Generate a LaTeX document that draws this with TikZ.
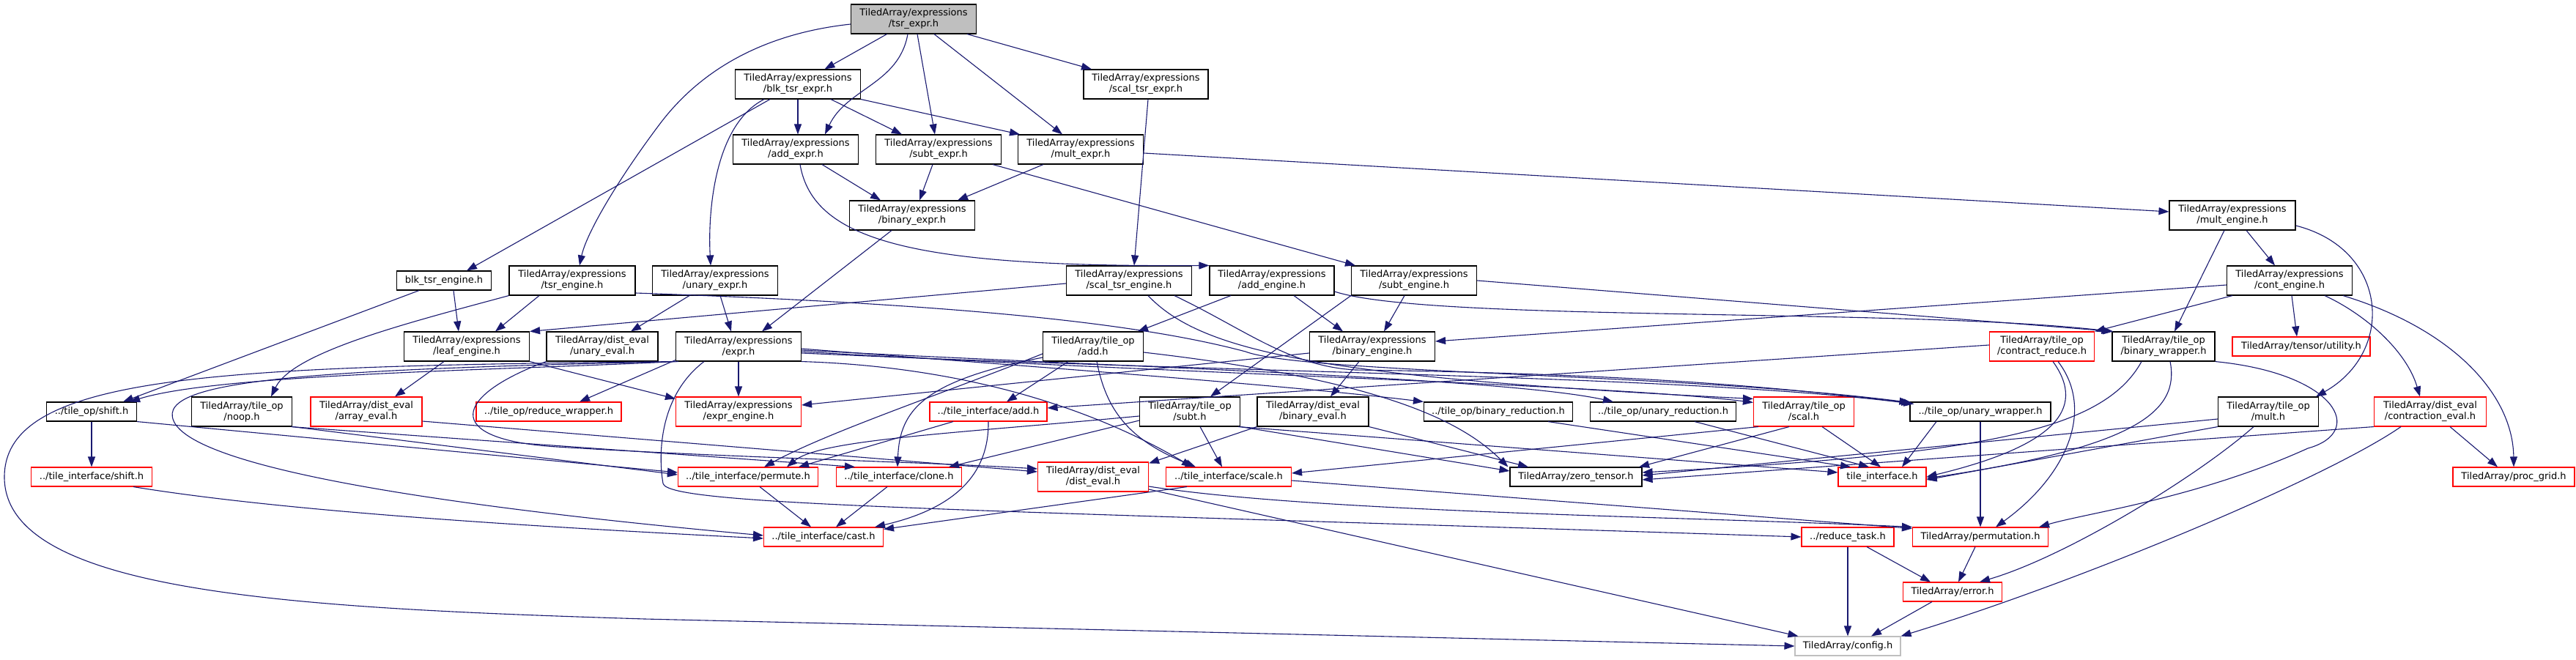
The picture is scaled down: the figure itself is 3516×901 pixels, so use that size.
\documentclass[tikz,border=0pt]{standalone}
\usepackage{fontspec}
\setmainfont{DejaVu Sans}
\usetikzlibrary{arrows.meta}
\definecolor{edgeblue}{HTML}{191970}
\definecolor{rootgray}{HTML}{BFBFBF}
\definecolor{cfggray}{HTML}{BFBFBF}
\definecolor{redline}{HTML}{FF0000}
\begin{document}
\begin{tikzpicture}[x=1pt,y=-1pt,
 nd/.style={draw=black,line width=1.1pt,fill=white,inner sep=0pt,align=center,font=\fontsize{13}{15}\selectfont},
 rd/.style={nd,draw=redline},
 two/.style={minimum height=40pt},
 one/.style={minimum height=26pt},
 e/.style={draw=edgeblue,line width=1.1pt,-{Triangle[length=14pt,width=10pt]}}]
\fill[white] (0,0) rectangle (3516,901);
\useasboundingbox (0,0) rectangle (3516,901);
% ---------------- nodes
\node[nd,two,fill=rootgray,minimum width=171pt] (tsr) at (1247,26) {TiledArray/expressions\\/tsr\_expr.h};
\node[nd,two,minimum width=171pt] (blk) at (1089,115) {TiledArray/expressions\\/blk\_tsr\_expr.h};
\node[nd,two,minimum width=170pt] (scalx) at (1564,115) {TiledArray/expressions\\/scal\_tsr\_expr.h};
\node[nd,two,minimum width=171pt] (addx) at (1086,204) {TiledArray/expressions\\/add\_expr.h};
\node[nd,two,minimum width=171pt] (subtx) at (1281,204) {TiledArray/expressions\\/subt\_expr.h};
\node[nd,two,minimum width=171pt] (multx) at (1475,204) {TiledArray/expressions\\/mult\_expr.h};
\node[nd,two,minimum width=171pt] (binx) at (1245,294) {TiledArray/expressions\\/binary\_expr.h};
\node[nd,two,minimum width=172pt] (multe) at (3047,294) {TiledArray/expressions\\/mult\_engine.h};
\node[nd,one,minimum width=129pt] (blke) at (606,383) {blk\_tsr\_engine.h};
\node[nd,two,minimum width=172pt] (tsre) at (781,383) {TiledArray/expressions\\/tsr\_engine.h};
\node[nd,two,minimum width=171pt] (unx) at (976,383) {TiledArray/expressions\\/unary\_expr.h};
\node[nd,two,minimum width=171pt] (scalte) at (1541,383) {TiledArray/expressions\\/scal\_tsr\_engine.h};
\node[nd,two,minimum width=170pt] (adde) at (1736,383) {TiledArray/expressions\\/add\_engine.h};
\node[nd,two,minimum width=171pt] (subte) at (1930,383) {TiledArray/expressions\\/subt\_engine.h};
\node[nd,two,minimum width=171pt] (conte) at (3125,383) {TiledArray/expressions\\/cont\_engine.h};
\node[nd,two,minimum width=171pt] (leafe) at (637,473) {TiledArray/expressions\\/leaf\_engine.h};
\node[nd,two,minimum width=152pt] (uneval) at (822,473) {TiledArray/dist\_eval\\/unary\_eval.h};
\node[nd,two,minimum width=171pt] (expr) at (1008,473) {TiledArray/expressions\\/expr.h};
\node[nd,two,minimum width=137pt] (addop) at (1492,473) {TiledArray/tile\_op\\/add.h};
\node[nd,two,minimum width=171pt] (bine) at (1873,473) {TiledArray/expressions\\/binary\_engine.h};
\node[rd,two,minimum width=143pt] (contr) at (2787,473) {TiledArray/tile\_op\\/contract\_reduce.h};
\node[nd,two,minimum width=140pt] (binw) at (2953,473) {TiledArray/tile\_op\\/binary\_wrapper.h};
\node[rd,one,minimum width=188pt] (util) at (3141,473) {TiledArray/tensor/utility.h};
\node[nd,one,minimum width=123pt] (shiftop) at (125,562) {../tile\_op/shift.h};
\node[nd,two,minimum width=137pt] (noop) at (330,562) {TiledArray/tile\_op\\/noop.h};
\node[rd,two,minimum width=152pt] (arreval) at (500,562) {TiledArray/dist\_eval\\/array\_eval.h};
\node[rd,one,minimum width=198pt] (redw) at (749,562) {../tile\_op/reduce\_wrapper.h};
\node[rd,two,minimum width=171pt] (expre) at (1008,562) {TiledArray/expressions\\/expr\_engine.h};
\node[rd,one,minimum width=160pt] (tiadd) at (1349,562) {../tile\_interface/add.h};
\node[nd,two,minimum width=137pt] (subtop) at (1624,562) {TiledArray/tile\_op\\/subt.h};
\node[nd,two,minimum width=152pt] (bineval) at (1792,562) {TiledArray/dist\_eval\\/binary\_eval.h};
\node[nd,one,minimum width=203pt] (binred) at (2045,562) {../tile\_op/binary\_reduction.h};
\node[nd,one,minimum width=199pt] (unred) at (2270,562) {../tile\_op/unary\_reduction.h};
\node[rd,two,minimum width=137pt] (scalop) at (2462,562) {TiledArray/tile\_op\\/scal.h};
\node[nd,one,minimum width=192pt] (unw) at (2703,562) {../tile\_op/unary\_wrapper.h};
\node[nd,two,minimum width=137pt] (multop) at (3096,562) {TiledArray/tile\_op\\/mult.h};
\node[rd,two,minimum width=153pt] (conteval) at (3317,562) {TiledArray/dist\_eval\\/contraction\_eval.h};
\node[rd,one,minimum width=165pt] (tishift) at (125,651) {../tile\_interface/shift.h};
\node[rd,one,minimum width=191pt] (permute) at (1021,651) {../tile\_interface/permute.h};
\node[rd,one,minimum width=171pt] (clone) at (1227,651) {../tile\_interface/clone.h};
\node[rd,two,minimum width=151pt] (disteval) at (1492,651) {TiledArray/dist\_eval\\/dist\_eval.h};
\node[rd,one,minimum width=171pt] (tiscale) at (1677,651) {../tile\_interface/scale.h};
\node[nd,one,minimum width=180pt] (zerot) at (2151,651) {TiledArray/zero\_tensor.h};
\node[rd,one,minimum width=120pt] (tiint) at (2569,651) {tile\_interface.h};
\node[rd,one,minimum width=166pt] (procg) at (3431,651) {TiledArray/proc\_grid.h};
\node[rd,one,minimum width=163pt] (cast) at (1124,733) {../tile\_interface/cast.h};
\node[rd,one,minimum width=126pt] (redtask) at (2522,733) {../reduce\_task.h};
\node[rd,one,minimum width=185pt] (perm) at (2703,733) {TiledArray/permutation.h};
\node[rd,one,minimum width=135pt] (err) at (2665,808) {TiledArray/error.h};
\node[nd,one,draw=cfggray,minimum width=144pt] (config) at (2522,882) {TiledArray/config.h};
% ---------------- edges
% tsr_expr
\draw[e] (tsr) -- (blk);
\draw[e] ([xshift=-8pt]tsr.south) to[out=-100,in=65] ([xshift=40pt]addx.north);
\draw[e] ([xshift=5pt]tsr.south) -- ([xshift=-5pt]subtx.north);
\draw[e] ([xshift=28pt]tsr.south) -- ([xshift=-25pt]multx.north);
\draw[e] ([xshift=73pt]tsr.south) -- ([xshift=-74pt]scalx.north);
\draw[e] ([yshift=-7pt]tsr.west) .. controls (1050,45) and (960,90) .. (900,170) .. controls (840,250) and (800,320) .. ([xshift=10pt]tsre.north);
% blk_tsr_expr
\draw[e] (blk.south) -- (blk.south |- addx.north);
\draw[e] ([xshift=45pt]blk.south) -- ([xshift=-50pt]subtx.north);
\draw[e] (blk.south east) -- ([xshift=-83pt]multx.north);
\draw[e] ([xshift=-38pt]blk.south) -- ([xshift=31pt]blke.north);
\draw[e] ([xshift=-46pt]blk.south) .. controls (975,170) and (966,290) .. ([xshift=-6pt]unx.north);
% scal_tsr_expr
\draw[e] ([xshift=3pt]scalx.south) -- ([xshift=7pt]scalte.north);
% add/subt/mult expr
\draw[e] ([xshift=36pt]addx.south) -- ([xshift=-43pt]binx.north);
\draw[e] ([xshift=6pt]addx.south) .. controls (1110,330) and (1250,365) .. (adde.north west);
\draw[e] ([xshift=-8pt]subtx.south) -- ([xshift=10pt]binx.north);
\draw[e] ([xshift=74pt]subtx.south) -- ([xshift=-80pt]subte.north);
\draw[e] ([xshift=-51pt]multx.south) -- ([xshift=62pt]binx.north);
\draw[e] ([yshift=-5pt]multx.east) -- ([yshift=5pt]multe.west);
\draw[e] ([xshift=-28pt]binx.south) -- ([xshift=32pt]expr.north);
% unary_expr
\draw[e] ([xshift=7pt]unx.south) -- ([xshift=-10pt]expr.north);
\draw[e] ([xshift=-35pt]unx.south) -- ([xshift=39pt]uneval.north);
% blk_tsr_engine, tsr_engine
\draw[e] ([xshift=13pt]blke.south) -- ([xshift=-11pt]leafe.north);
\draw[e] ([xshift=-34pt]blke.south) -- ([xshift=43pt]shiftop.north);
\draw[e] ([xshift=-45pt]tsre.south) -- ([xshift=39pt]leafe.north);
\draw[e] (tsre.south west) .. controls (560,440) and (400,480) .. ([xshift=40pt]noop.north);
\draw[e] ([yshift=-17pt]tsre.east) .. controls (1300,415) and (1550,440) .. (1700,480) .. controls (1780,510) and (2300,510) .. ([yshift=-1pt]unw.north west);
% scal_tsr_engine
\draw[e] ([yshift=-4pt]scalte.west) -- (leafe.north east);
\draw[e] ([xshift=26pt]scalte.south) .. controls (1640,480) and (1800,515) .. ([yshift=-3pt]scalop.north west);
\draw[e] ([xshift=62pt]scalte.south) .. controls (1700,450) and (1760,500) .. (1850,505) .. controls (2200,510) and (2400,525) .. ([xshift=3pt,yshift=-2pt]unw.north west);
% add_engine, subt_engine
\draw[e] ([xshift=30pt]adde.south) -- ([xshift=-40pt]bine.north);
\draw[e] ([xshift=-56pt]adde.south) -- ([xshift=61pt]addop.north);
\draw[e] ([yshift=-15pt]adde.east) .. controls (1950,440) and (2600,420) .. (binw.north west);
\draw[e] ([xshift=-13pt]subte.south) -- ([xshift=16pt]bine.north);
\draw[e] (subte.south west) -- ([xshift=28pt]subtop.north);
\draw[e] (subte.east) -- ([xshift=2pt]binw.north west);
% mult_engine, cont_engine
\draw[e] ([xshift=19pt]multe.south) -- ([xshift=-20pt]conte.north);
\draw[e] ([xshift=-11pt]multe.south) -- ([xshift=15pt]binw.north);
\draw[e] ([yshift=-14pt]multe.east) .. controls (3260,340) and (3270,480) .. ([xshift=-4pt]multop.north east);
\draw[e] ([yshift=-6pt]conte.west) -- ([yshift=7pt]bine.east);
\draw[e] ([xshift=-78pt]conte.south) -- (contr.north east);
\draw[e] ([xshift=3pt]conte.south) -- ([xshift=-6pt]util.north);
\draw[e] ([xshift=48pt]conte.south) .. controls (3230,430) and (3285,480) .. ([xshift=-14pt]conteval.north);
\draw[e] ([xshift=73pt]conte.south) .. controls (3350,450) and (3430,540) .. (procg.north);
% contraction_eval
\draw[e] ([xshift=27pt]conteval.south) -- ([xshift=-22pt]procg.north);
\draw[e] ([xshift=-40pt]conteval.south) .. controls (3180,650) and (2850,790) .. (config.north east);
\draw[e] (conteval.south west) -- ([yshift=-4pt]zerot.east);
% expr.h
\draw[e] (expr.south) -- (expre.north);
\draw[e] (expr.south west) .. controls (700,505) and (300,510) .. ([xshift=-10pt]shiftop.north east);
\draw[e] ([xshift=2pt]expr.south west) .. controls (400,505) and (200,520) .. (240,580) .. controls (290,650) and (700,700) .. ([yshift=2pt]cast.west);
\draw[e] ([yshift=2pt]expr.south west) -- ([xshift=42pt]redw.north);
\draw[e] ([xshift=4pt]expr.south west) .. controls (300,500) and (8,510) .. (6,650) .. controls (4,810) and (400,830) .. (880,845) -- (config.west);
\draw[e] ([xshift=-47pt]expr.south) .. controls (900,540) and (898,620) .. (905,660) .. controls (912,690) and (1300,695) .. (redtask.west);
\draw[e] (expr.south east) .. controls (1300,500) and (1480,550) .. ([xshift=-50pt]tiscale.north);
\draw[e] ([yshift=-3pt]expr.east) .. controls (1400,500) and (1750,525) .. (binred.north west);
\draw[e] ([yshift=-5pt]expr.east) .. controls (1500,500) and (2050,515) .. ([xshift=32pt]unred.north west);
\draw[e] ([yshift=-7pt]expr.east) .. controls (1600,510) and (2200,525) .. ([yshift=-8pt]scalop.north west);
\draw[e] ([yshift=-9pt]expr.east) .. controls (1700,510) and (2300,512) .. ([xshift=6pt,yshift=-3pt]unw.north west);
% leaf_engine, unary_eval, binary_engine
\draw[e] ([xshift=-31pt]leafe.south) -- ([xshift=39pt]arreval.north);
\draw[e] (leafe.south east) -- ([yshift=-3pt]expre.north west);
\draw[e] (uneval.south west) .. controls (620,540) and (600,600) .. (760,610) .. controls (1000,625) and (1250,630) .. ([yshift=11pt]disteval.west);
\draw[e] ([yshift=-13pt]arreval.east) -- ([yshift=7pt]disteval.west);
\draw[e] ([xshift=-18pt]bine.south) -- ([xshift=24pt]bineval.north);
\draw[e] ([yshift=-9pt]bine.west) -- ([yshift=9pt]expre.east);
% tile_op/add.h
\draw[e] ([xshift=-34pt]addop.south) -- ([xshift=25pt]tiadd.north);
\draw[e] ([yshift=-10pt]addop.west) .. controls (1280,540) and (1130,590) .. ([xshift=22pt]permute.north);
\draw[e] ([yshift=-15pt]addop.west) .. controls (1260,520) and (1228,560) .. ([xshift=-2pt]clone.north);
\draw[e] ([xshift=5pt]addop.south) .. controls (1510,560) and (1540,600) .. ([xshift=-45pt]tiscale.north);
\draw[e] ([yshift=-8pt]addop.east) .. controls (1900,520) and (2000,580) .. ([xshift=-2pt]zerot.north west);
% tile_op/subt.h
\draw[e] ([yshift=-6pt]subtop.west) .. controls (1300,592) and (1120,600) .. ([xshift=53pt]permute.north);
\draw[e] ([yshift=-12pt]subtop.west) -- ([xshift=68pt]clone.north);
\draw[e] ([xshift=14pt]subtop.south) -- ([xshift=-9pt]tiscale.north);
\draw[e] (subtop.south east) -- ([yshift=8pt]zerot.west);
\draw[e] ([xshift=-3pt]subtop.south east) -- ([yshift=6pt]tiint.west);
% binary_eval
\draw[e] (bineval.south west) -- ([yshift=-2pt]disteval.north east);
\draw[e] (bineval.south east) -- ([xshift=-65pt]zerot.north);
% reductions, scal, unary_wrapper
\draw[e] ([xshift=68pt]binred.south) -- ([xshift=-43pt]tiint.north);
\draw[e] ([xshift=43pt]unred.south) -- ([xshift=-18pt]tiint.north);
\draw[e] ([xshift=25pt]scalop.south) -- ([xshift=-2pt]tiint.north);
\draw[e] ([xshift=-20pt]scalop.south) -- ([xshift=86pt]zerot.north);
\draw[e] ([xshift=-62pt]scalop.south) -- ([yshift=5pt]tiscale.east);
\draw[e] (unw.south) -- (unw.south |- perm.north);
\draw[e] ([xshift=-60pt]unw.south) -- ([xshift=27pt]tiint.north);
% contract_reduce, binary_wrapper, mult
\draw[e] ([yshift=2pt]contr.west) -- ([yshift=5pt]tiadd.east);
\draw[e] ([xshift=15pt]contr.south) .. controls (2850,560) and (2800,610) .. (tiint.east);
\draw[e] ([xshift=22pt]contr.south) .. controls (2860,560) and (2820,650) .. ([xshift=21pt]perm.north);
\draw[e] ([xshift=-30pt]binw.south) .. controls (2870,590) and (2700,620) .. ([yshift=6pt]zerot.east);
\draw[e] ([xshift=9pt]binw.south) .. controls (2975,560) and (2920,610) .. ([yshift=-2pt]tiint.east);
\draw[e] (binw.south east) .. controls (3190,510) and (3230,590) .. (3150,612) .. controls (3000,680) and (2850,700) .. ([xshift=80pt]perm.north);
\draw[e] ([yshift=-10pt]multop.west) -- ([yshift=2pt]zerot.east);
\draw[e] (multop.south west) -- ([yshift=-4pt]tiint.east);
\draw[e] ([xshift=-20pt]multop.south) .. controls (3000,650) and (2820,760) .. ([xshift=37pt]err.north);
% noop, shift
\draw[e] (noop.south east) -- ([yshift=3pt]permute.west);
\draw[e] ([xshift=-2pt]noop.south east) -- ([xshift=-60pt]clone.north);
\draw[e] (shiftop.south) -- (tishift.north);
\draw[e] (shiftop.south east) -- ([yshift=6pt]permute.west);
\draw[e] ([xshift=57pt]tishift.south) .. controls (400,700) and (750,720) .. ([yshift=-2pt]cast.west);
% tile_interface layer
\draw[e] ([xshift=16pt]permute.south) -- ([xshift=-17pt]cast.north);
\draw[e] ([xshift=-16pt]clone.south) -- ([xshift=17pt]cast.north);
\draw[e] (tiadd.south) .. controls (1350,650) and (1300,695) .. ([xshift=70pt]cast.north);
\draw[e] ([xshift=-48pt]tiadd.south) -- ([xshift=69pt]permute.north);
\draw[e] ([xshift=-57pt]tiscale.south) -- ([yshift=-3pt]cast.north east);
\draw[e] ([yshift=-5pt]tiscale.east) -- ([yshift=-2pt]perm.north west);
\draw[e] ([yshift=-17pt]disteval.east) -- ([xshift=5pt]config.north west);
\draw[e] ([yshift=-13pt]disteval.east) .. controls (1800,700) and (2300,705) .. (perm.north west);
% bottom
\draw[e] (redtask.south) -- (redtask.south |- config.north);
\draw[e] ([xshift=26pt]redtask.south) -- ([xshift=-30pt]err.north);
\draw[e] ([xshift=-7pt]perm.south) -- ([xshift=8pt]err.north);
\draw[e] ([xshift=-28pt]err.south) -- ([xshift=32pt]config.north);
\end{tikzpicture}
\end{document}
